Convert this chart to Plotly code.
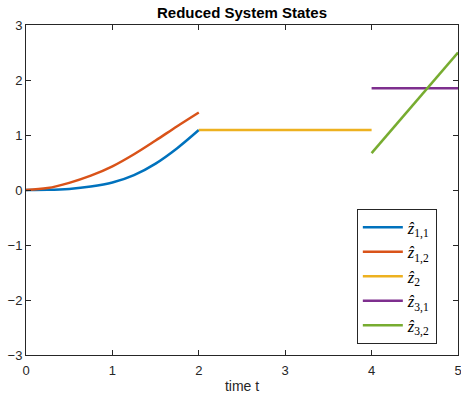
import plotly.graph_objects as go

t1 = [0, 0.25, 0.5, 0.75, 1.0, 1.25, 1.5, 1.75, 2.0]
z11 = [0, 0.003, 0.02, 0.062, 0.135, 0.27, 0.48, 0.76, 1.09]
z12 = [0, 0.035, 0.13, 0.26, 0.43, 0.65, 0.90, 1.16, 1.41]
t2 = [2, 4]
z2 = [1.09, 1.09]
t3 = [4, 5]
z31 = [1.85, 1.85]
z32 = [0.67, 2.5]

names = ["<i>ẑ</i><sub>1,1</sub>", "<i>ẑ</i><sub>1,2</sub>", "<i>ẑ</i><sub>2</sub>",
         "<i>ẑ</i><sub>3,1</sub>", "<i>ẑ</i><sub>3,2</sub>"]
colors = ["#0072BD", "#D95319", "#EDB120", "#7E2F8E", "#77AC30"]
series = [(t1, z11, "spline"), (t1, z12, "spline"), (t2, z2, "linear"),
          (t3, z31, "linear"), (t3, z32, "linear")]

fig = go.Figure()
for (x, y, shape), n, c in zip(series, names, colors):
    fig.add_trace(go.Scatter(x=x, y=y, mode="lines", name=n,
                             line=dict(color=c, width=2.5, shape=shape, smoothing=1)))

axcol = "#262626"
fig.update_layout(
    width=461, height=395,
    margin=dict(l=26, r=3, t=25, b=40, autoexpand=False),
    plot_bgcolor="white", paper_bgcolor="white",
    font=dict(family="Liberation Sans, Arial, sans-serif", size=13, color=axcol),
    title=dict(text="<b>Reduced System States</b>", x=0.525, xanchor="center",
               y=0.967, yanchor="middle", font=dict(size=15, color="black")),
    xaxis=dict(range=[0, 5], tickvals=[0, 1, 2, 3, 4, 5], showgrid=False,
               zeroline=False, showline=True, linecolor=axcol, linewidth=1,
               mirror="ticks", ticks="inside", ticklen=5, tickcolor=axcol,
               ticklabeloverflow="allow", ticklabelstandoff=3, automargin=False,
               title=dict(text="time t", font=dict(size=14), standoff=4)),
    yaxis=dict(range=[-3, 3], tickvals=[-3, -2, -1, 0, 1, 2, 3], showgrid=False,
               zeroline=False, showline=True, linecolor=axcol, linewidth=1,
               mirror="ticks", ticks="inside", ticklen=5, tickcolor=axcol,
               ticklabeloverflow="allow", automargin=False),
    legend=dict(x=0.951, y=0.033, xanchor="right", yanchor="bottom",
                bgcolor="white", bordercolor=axcol, borderwidth=1,
                itemwidth=40,
                font=dict(family="Liberation Serif, serif", size=16.5, color="black"),
                tracegroupgap=0),
    showlegend=True,
)
fig.write_html("out.html")
